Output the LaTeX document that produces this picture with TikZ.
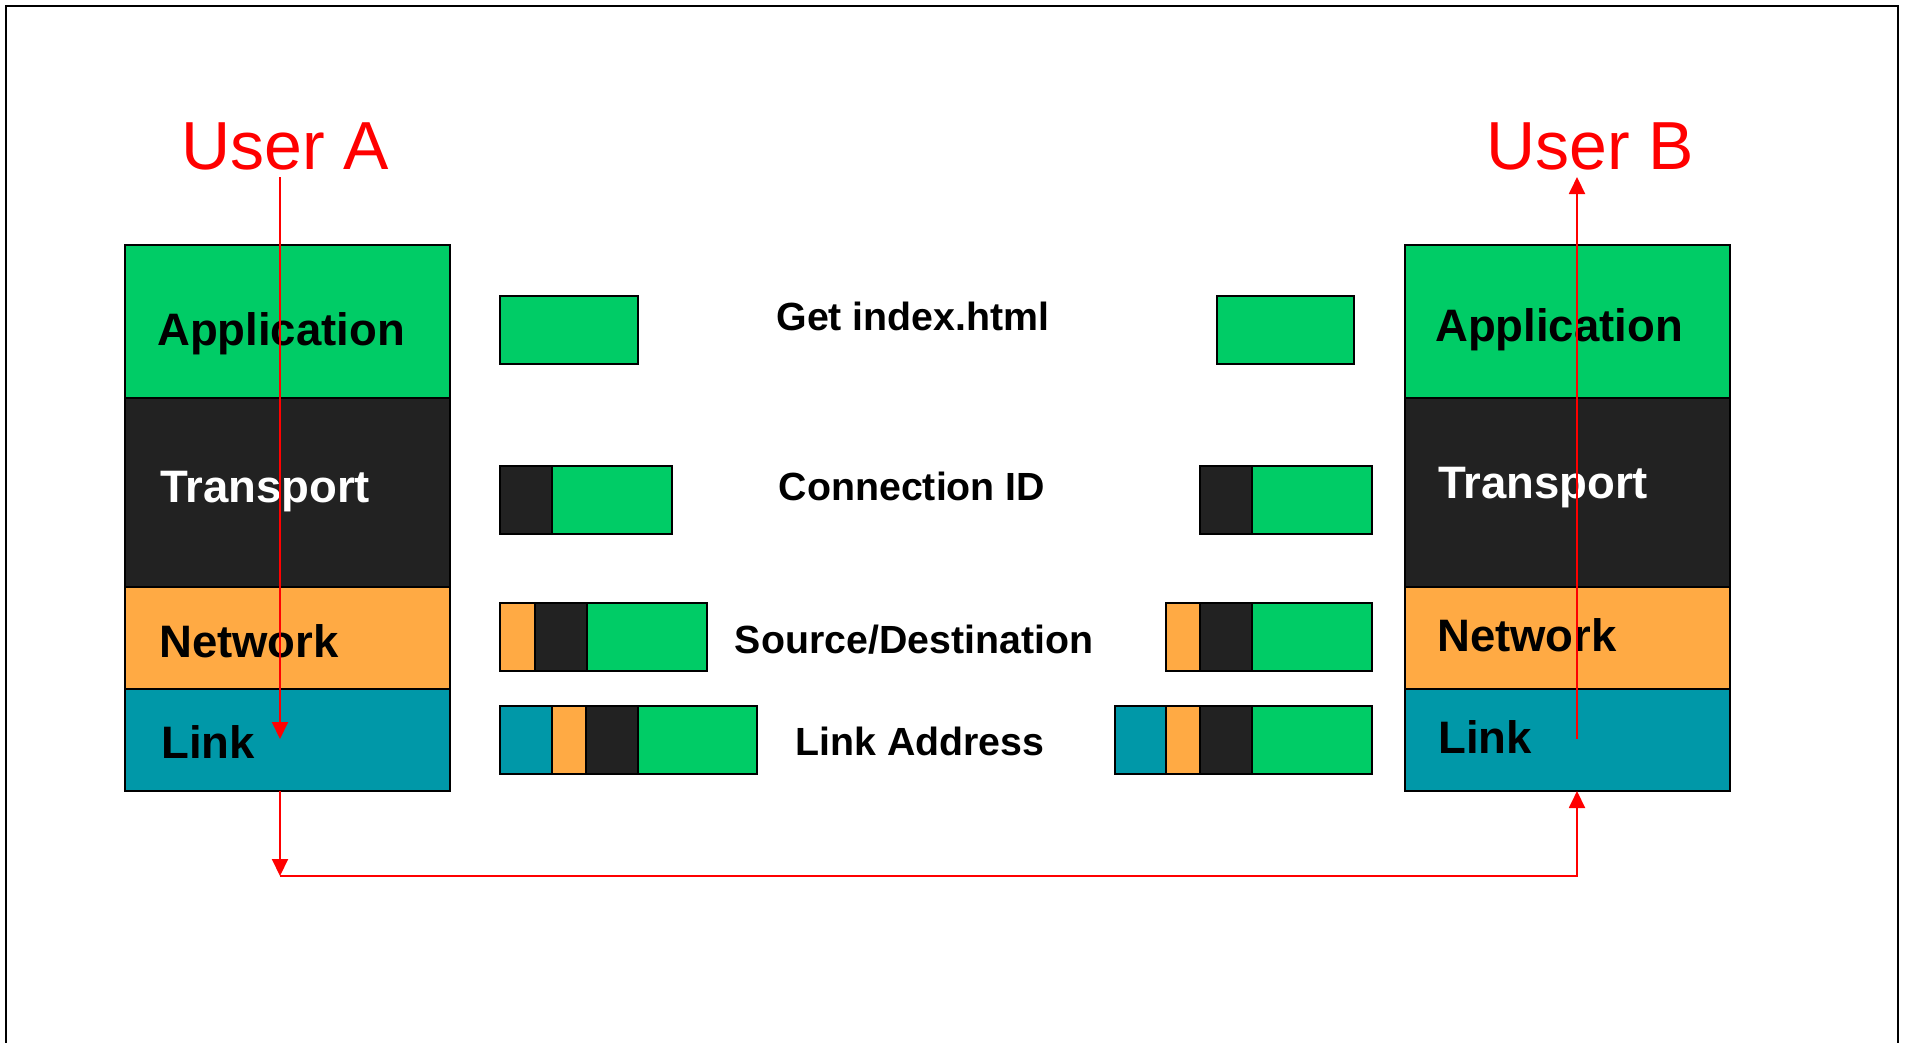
\documentclass[tikz,border=0pt]{standalone}
\usepackage{fontspec}
\setmainfont{Liberation Sans}
\usetikzlibrary{arrows.meta}
\definecolor{lgreen}{RGB}{0,204,102}
\definecolor{ldark}{RGB}{34,34,34}
\definecolor{lorange}{RGB}{255,170,68}
\definecolor{lteal}{RGB}{0,152,168}
\definecolor{ured}{RGB}{255,0,0}
\begin{document}
\begin{tikzpicture}[x=1pt,y=-1pt,
  layer/.style={draw=black, line width=2.5pt, minimum width=325pt, anchor=north west, inner sep=0pt, outer sep=0pt},
  lbl/.style={font=\fontsize{45.5}{54}\selectfont\bfseries, inner sep=0pt, anchor=base west},
  mid/.style={font=\fontsize{39.3}{46}\selectfont\bfseries, inner sep=0pt, anchor=base},
  user/.style={font=\fontsize{68}{80}\selectfont, text=ured, inner sep=0pt, anchor=base west},
  pkt/.style={draw=black, line width=2pt},
  redarrow/.style={draw=ured, line width=2pt, -{Triangle[length=17pt,width=16pt]}}]
\useasboundingbox (0,0) rectangle (1908,1042);
\draw[line width=2pt] (6,1044) -- (6,6) -- (1898,6) -- (1898,1044);

% left stack
\node[layer, fill=lgreen, minimum height=153pt] (LA) at (125,245) {};
\node[layer, fill=ldark, minimum height=189pt] (LT) at (125,398) {};
\node[layer, fill=lorange, minimum height=102pt] (LN) at (125,587) {};
\node[layer, fill=lteal, minimum height=102pt] (LL) at (125,689) {};
\node[lbl] (LAt) at (157,345) {Application};
\node[lbl, text=white] (LTt) at (160,502) {Transport};
\node[lbl] (LNt) at (159,657) {Network};
\node[lbl] (LLt) at (161,758) {Link};

% right stack
\node[layer, fill=lgreen, minimum height=153pt] (RA) at (1405,245) {};
\node[layer, fill=ldark, minimum height=189pt] (RT) at (1405,398) {};
\node[layer, fill=lorange, minimum height=102pt] (RN) at (1405,587) {};
\node[layer, fill=lteal, minimum height=102pt] (RL) at (1405,689) {};
\node[lbl] (RAt) at (1435,341) {Application};
\node[lbl, text=white] (RTt) at (1438,498) {Transport};
\node[lbl] (RNt) at (1437,651) {Network};
\node[lbl] (RLt) at (1438,753) {Link};

% packets
\path[pkt, fill=lgreen] (500,296) rectangle (638,364);
\path[pkt, fill=lgreen] (1217,296) rectangle (1354,364);

\path[pkt, fill=ldark] (500,466) rectangle (552,534);
\path[pkt, fill=lgreen] (552,466) rectangle (672,534);
\path[pkt, fill=ldark] (1200,466) rectangle (1252,534);
\path[pkt, fill=lgreen] (1252,466) rectangle (1372,534);

\path[pkt, fill=lorange] (500,603) rectangle (535,671);
\path[pkt, fill=ldark] (535,603) rectangle (587,671);
\path[pkt, fill=lgreen] (587,603) rectangle (707,671);
\path[pkt, fill=lorange] (1166,603) rectangle (1200,671);
\path[pkt, fill=ldark] (1200,603) rectangle (1252,671);
\path[pkt, fill=lgreen] (1252,603) rectangle (1372,671);

\path[pkt, fill=lteal] (500,706) rectangle (552,774);
\path[pkt, fill=lorange] (552,706) rectangle (586,774);
\path[pkt, fill=ldark] (586,706) rectangle (638,774);
\path[pkt, fill=lgreen] (638,706) rectangle (757,774);
\path[pkt, fill=lteal] (1115,706) rectangle (1166,774);
\path[pkt, fill=lorange] (1166,706) rectangle (1200,774);
\path[pkt, fill=ldark] (1200,706) rectangle (1252,774);
\path[pkt, fill=lgreen] (1252,706) rectangle (1372,774);

% middle labels
\node[mid] (m1) at (913,330) {Get index.html};
\node[mid] (m2) at (912,500) {Connection ID};
\node[mid] (m3) at (914,653) {Source/Destination};
\node[mid] (m4) at (920,755) {Link Address};

% users
\node[user] (UA) at (181,169) {User A};
\node[user] (UB) at (1486,169) {User B};

% red arrows
\coordinate (aTop) at (280,177);
\coordinate (aLink) at (280,739);
\coordinate (aBot) at (280,876);
\coordinate (bTop) at (1577,177);
\coordinate (bLink) at (1577,739);
\draw[redarrow] (aTop) -- (aLink);
\draw[redarrow] (LL.south -| aTop) -- (aBot);
\draw[redarrow] (aBot) -| (RL.south -| bTop);
\draw[redarrow] (bLink) -- (bTop);
\end{tikzpicture}
\end{document}
